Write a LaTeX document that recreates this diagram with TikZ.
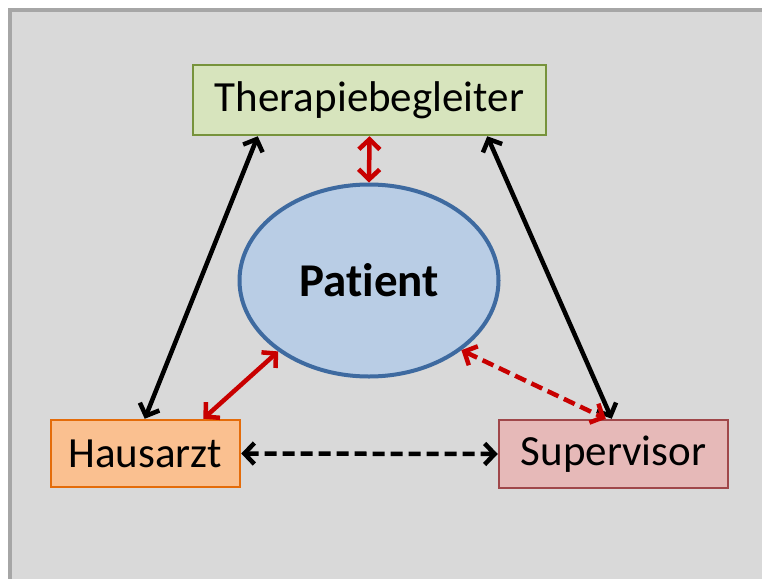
\documentclass[tikz,border=0pt]{standalone}
\usepackage{fontspec}
\setmainfont{Carlito}[Ligatures=NoCommon]
\usetikzlibrary{arrows.meta,shapes.geometric}
\definecolor{bgfill}{HTML}{D9D9D9}
\definecolor{bgline}{HTML}{A6A6A6}
\definecolor{tbfill}{HTML}{D7E4BD}
\definecolor{tbline}{HTML}{77933C}
\definecolor{hafill}{HTML}{FAC090}
\definecolor{haline}{HTML}{E46C0A}
\definecolor{svfill}{HTML}{E6B9B8}
\definecolor{svline}{HTML}{A0474A}
\definecolor{ptfill}{HTML}{B9CDE5}
\definecolor{ptline}{HTML}{3E6AA0}
\definecolor{darkred}{HTML}{C80000}
\tikzset{
  rolebox/.style={draw, line width=2.5pt, inner sep=0pt, font=\fontsize{43}{50}\selectfont},
  link/.style={line width=4.5pt, {Straight Barb[length=10pt,width=21pt]}-{Straight Barb[length=10pt,width=21pt]}},
  blacklink/.style={link, black},
  redlink/.style={link, darkred},
  dashlink/.style={dash pattern=on 12pt off 6pt}
}
\begin{document}
\begin{tikzpicture}[x=1pt,y=-1pt]
\useasboundingbox (0,0) rectangle (762,578);
\clip (0,0) rectangle (762,578);
\draw[fill=bgfill, draw=bgline, line width=4.5pt] (10,10) rectangle (790,600);
\node[rolebox, fill=tbfill, draw=tbline, minimum width=353pt, minimum height=70pt] (tb) at (369.5,100) {Therapiebegleiter};
\node[rolebox, fill=hafill, draw=haline, minimum width=189pt, minimum height=67pt] (ha) at (145.5,453.5) {Hausarzt};
\node[rolebox, fill=svfill, draw=svline, minimum width=229pt, minimum height=68pt] (sv) at (613.5,454) {Supervisor};
\node[ellipse, draw=ptline, fill=ptfill, line width=4pt, inner sep=0pt, minimum width=259pt, minimum height=192pt, font=\bfseries\fontsize{47}{54}\selectfont] (pt) at (369,280.5) {Patient};
\draw[redlink] (tb.south) -- (pt.north);
\draw[blacklink] ([xshift=66pt]tb.south west) -- ([xshift=95pt]ha.north west);
\draw[blacklink] ([xshift=-60pt]tb.south east) -- ([xshift=114pt]sv.north west);
\draw[redlink] (pt.218) -- ([xshift=-38pt]ha.north east);
\draw[redlink, dashlink] (pt.323) -- ([xshift=108pt]sv.north west);
\draw[blacklink, dashlink] (ha.east) -- (sv.west);
\end{tikzpicture}
\end{document}
